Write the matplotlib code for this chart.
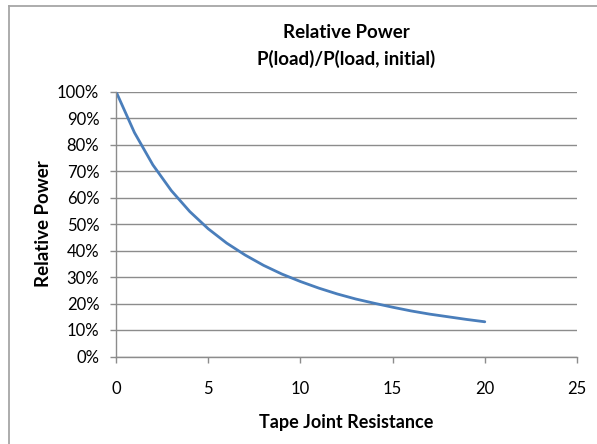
"""Relative power vs tape joint resistance (Excel-style line chart)."""
import matplotlib
matplotlib.use("Agg")
import matplotlib.pyplot as plt
from matplotlib.lines import Line2D
from matplotlib.ticker import PercentFormatter

# values
resistance = [0, 1, 2, 3, 4, 5, 6, 7, 8, 9, 10,
              11, 12, 13, 14, 15, 16, 17, 18, 19, 20]
rel_power = [1.000, 0.845, 0.723, 0.626, 0.547, 0.482, 0.428, 0.383, 0.344,
             0.311, 0.283, 0.258, 0.236, 0.217, 0.201, 0.186, 0.172, 0.160,
             0.150, 0.140, 0.131]

x_ticks = [0, 5, 10, 15, 20, 25]
y_ticks = [0.0, 0.1, 0.2, 0.3, 0.4, 0.5, 0.6, 0.7, 0.8, 0.9, 1.0]

plt.rcParams["font.family"] = ["Lato", "DejaVu Sans"]

W, H = 597, 444
fig = plt.figure(figsize=(W / 100, H / 100), dpi=100)

# chart-area border: only left and top edges fall inside the picture
bx, by = 8.5 / W, 1 - 6 / H
fig.lines.append(Line2D([bx, bx], [0, by], transform=fig.transFigure,
                        color="#a6a6a6", lw=1.3))
fig.lines.append(Line2D([bx, 1], [by, by], transform=fig.transFigure,
                        color="#a6a6a6", lw=1.3))

# plot area: x 116..577 px, y 91.5..356.5 px (from top)
ax = fig.add_axes([116 / W, 1 - 356.5 / H, (577 - 116) / W, (356.5 - 91.5) / H])

ax.plot(resistance, rel_power, color="#4a7ebb", lw=2.0, solid_capstyle="round")

ax.set_xlim(0, 25)
ax.set_ylim(0, 1.0)
ax.set_xticks(x_ticks)
ax.set_yticks(y_ticks)
ax.yaxis.set_major_formatter(PercentFormatter(1.0, decimals=0))

ax.grid(axis="y", color="#8c8c8c", lw=1.0)
ax.set_axisbelow(True)
for side in ("top", "right"):
    ax.spines[side].set_visible(False)
for side in ("left", "bottom"):
    ax.spines[side].set_color("#8c8c8c")
    ax.spines[side].set_linewidth(1.0)
ax.tick_params(axis="both", direction="out", length=4, width=1.0,
               color="#8c8c8c", labelsize=12, labelcolor="black")
ax.tick_params(axis="x", pad=14)
ax.tick_params(axis="y", pad=8)

ax.set_xlabel("Tape Joint Resistance", fontsize=13, fontweight="bold", labelpad=12)
ax.set_ylabel("Relative Power", fontsize=13.5, fontweight="bold", labelpad=4)

fig.text(346 / W, 1 - 32 / H, "Relative Power", ha="center", va="center",
         fontsize=13.5, fontweight="bold")
fig.text(346 / W, 1 - 59 / H, "P(load)/P(load, initial)", ha="center", va="center",
         fontsize=13.5, fontweight="bold")

fig.savefig("out.png", dpi=100, facecolor="white")
